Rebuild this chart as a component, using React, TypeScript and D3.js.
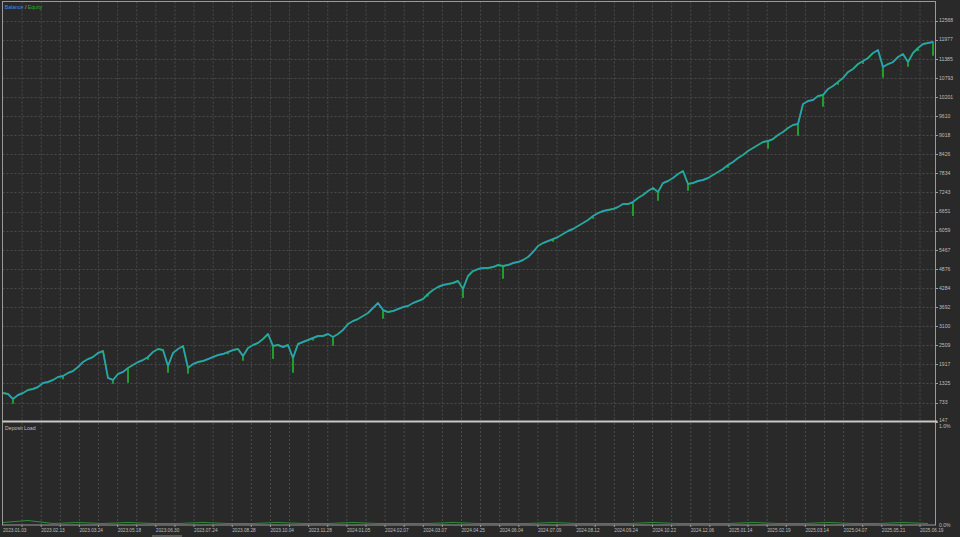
import React from "react";
import * as d3 from "d3";

const W = 960;
const H = 537;

// Balance curve, one value every few trades
const balance: number[] = [
  1030, 999, 844, 968, 1030, 1123, 1154, 1216, 1340, 1371,
  1433, 1526, 1557, 1650, 1711, 1835, 1990, 2083, 2145, 2269,
  2331, 1495, 1433, 1619, 1681, 1804, 1897, 1990, 2052, 2145,
  2300, 2393, 2362, 1866, 2269, 2393, 2486, 1804, 1928, 1990,
  2021, 2083, 2145, 2207, 2238, 2300, 2362, 2393, 2176, 2424,
  2517, 2579, 2703, 2858, 2486, 2517, 2455, 2517, 2114, 2548,
  2610, 2672, 2734, 2796, 2796, 2858, 2765, 2858, 2982, 3168,
  3260, 3322, 3415, 3508, 3663, 3818, 3601, 3539, 3570, 3632,
  3694, 3725, 3818, 3880, 3942, 4097, 4221, 4314, 4376, 4407,
  4438, 4500, 4252, 4655, 4809, 4871, 4902, 4902, 4933, 4995,
  4964, 4995, 5057, 5088, 5150, 5243, 5398, 5584, 5677, 5739,
  5801, 5863, 5956, 6049, 6111, 6204, 6297, 6389, 6513, 6606,
  6668, 6699, 6730, 6792, 6885, 6885, 6947, 7071, 7164, 7288,
  7381, 7257, 7536, 7598, 7691, 7815, 7907, 7505, 7536, 7598,
  7629, 7691, 7784, 7877, 7969, 8093, 8186, 8310, 8403, 8527,
  8620, 8713, 8806, 8837, 8899, 9023, 9116, 9240, 9333, 9364,
  9983, 10076, 10107, 10231, 10262, 10448, 10541, 10665, 10789, 10974,
  11067, 11222, 11315, 11408, 11563, 11656, 11129, 11222, 11284, 11439,
  11532, 11284, 11563, 11718, 11842, 11873, 11904,
];

// Equity drawdowns: [balance point index, equity value]
const equityDips: [number, number][] = [
  [2, 720], [12, 1480], [22, 1340], [25, 1370], [29, 2080], [33, 1680],
  [37, 1650], [45, 2250], [48, 2050], [54, 2110], [58, 1680], [62, 2680],
  [66, 2517], [76, 3350], [85, 4040], [92, 4000], [100, 4590], [110, 5740],
  [118, 6450], [126, 6540], [131, 7010], [137, 7320], [145, 8030], [153, 8620],
  [159, 9020], [164, 9920], [167, 10600], [172, 11250], [176, 10820], [181, 11160],
  [183, 11650], [186, 11500],
];

// Deposit load, percent, one value every 5 balance points
const depositLoad: number[] = [
  0.02, 0.04, 0.01, 0.02, 0.01, 0.02, 0.01, 0.01, 0.02, 0.01,
  0.01, 0.02, 0.01, 0.01, 0.02, 0.01, 0.01, 0.01, 0.02, 0.01,
  0.01, 0.01, 0.02, 0.01, 0.01, 0.01, 0.02, 0.01, 0.01, 0.01,
  0.02, 0.01, 0.01, 0.02, 0.01, 0.01, 0.02, 0.01,
];

const yTickValues: number[] = [
  147, 733, 1325, 1917, 2509, 3100, 3692, 4284, 4876, 5467, 6059,
  6651, 7243, 7834, 8426, 9018, 9610, 10201, 10793, 11385, 11977, 12568,
];

const loadTickLabels: string[] = ["1.0%", "0.0%"];
const loadTickValues: number[] = [1, 0];

const xTickLabels: string[] = [
  "2023.01.03", "2023.02.13", "2023.03.24", "2023.05.18", "2023.06.30",
  "2023.07.24", "2023.08.28", "2023.10.04", "2023.11.28", "2024.01.05",
  "2024.02.07", "2024.03.07", "2024.04.25", "2024.06.04", "2024.07.09",
  "2024.08.12", "2024.09.24", "2024.10.22", "2024.12.06", "2025.01.14",
  "2025.02.19", "2025.03.14", "2025.04.07", "2025.05.21", "2025.06.19",
];

const FONT = "'Liberation Sans', Arial, sans-serif";

export default function App() {
  const left = 2.5;
  const right = 935.5;
  const top = 1.5;
  const sep = 421.5;
  const bottom = 525;

  const x = d3.scaleLinear().domain([0, balance.length - 1]).range([3, 933]);
  const y = d3.scaleLinear().domain([147, 13144]).range([421.5, 2]);
  const yLoad = d3.scaleLinear().domain([0, 1]).range([524.5, 424.5]);
  const xLab = d3.scaleLinear().domain([0, xTickLabels.length - 1]).range([3, 920]);

  const balLine = d3
    .line<number>()
    .x((_, i) => x(i))
    .y((d) => y(d));

  const dipMap = new Map(equityDips.map(([i, v]) => [i, v]));
  const eqPts: [number, number][] = [];
  balance.forEach((b, i) => {
    eqPts.push([i, b]);
    const dv = dipMap.get(i);
    if (dv !== undefined) {
      eqPts.push([i, dv]);
      eqPts.push([i, b]);
    }
  });
  const eqLine = d3
    .line<[number, number]>()
    .x((d) => x(d[0]))
    .y((d) => y(d[1]));

  const loadLine = d3
    .line<number>()
    .x((_, i) => x(Math.min(i * 5, balance.length - 1)))
    .y((d) => yLoad(d));

  const halfSteps = d3.range(1, (xTickLabels.length - 1) * 2 + 1).map((j) => xLab(j / 2));

  const grid = "#4b4b4b";
  const txt = "#bdbdbd";

  return (
    <svg
      width={W}
      height={H}
      style={{ position: "fixed", left: 0, top: 0, display: "block" }}
      xmlns="http://www.w3.org/2000/svg"
    >
      <rect x={0} y={0} width={W} height={H} fill="#292929" />
      <rect x={152} y={535} width={30} height={2} fill="#5a5a5a" />

      {/* vertical grid */}
      {halfSteps.map((gx, k) => (
        <g key={"vg" + k}>
          <line x1={gx} x2={gx} y1={top} y2={sep - 1} stroke={grid} strokeWidth={1} strokeDasharray="2 2" />
          <line x1={gx} x2={gx} y1={sep + 1.5} y2={bottom} stroke={grid} strokeWidth={1} strokeDasharray="2 2" />
          <line x1={gx} x2={gx} y1={bottom} y2={bottom + 2} stroke="#9a9a9a" strokeWidth={1} />
        </g>
      ))}

      {/* horizontal grid + right labels */}
      {yTickValues.map((v, k) => {
        const yy = Math.round(y(v)) + 0.5;
        return (
          <g key={"hg" + k}>
            {k > 0 && (
              <line x1={left} x2={right} y1={yy} y2={yy} stroke={grid} strokeWidth={1} strokeDasharray="2 2" />
            )}
            <line x1={right} x2={right + 2.5} y1={yy} y2={yy} stroke="#9a9a9a" strokeWidth={1} />
            <text x={939} y={y(v) - (k === 0 ? 1 : 0)} dy="0.35em" fontSize={5.1} fill={txt} fontFamily={FONT}>
              {v}
            </text>
          </g>
        );
      })}

      {loadTickValues.map((v, k) => (
        <text key={"lt" + k} x={939} y={yLoad(v) + (k === 0 ? 2 : 0.5)} dy="0.35em" fontSize={5.1} fill={txt} fontFamily={FONT}>
          {loadTickLabels[k]}
        </text>
      ))}

      {/* x labels */}
      {xTickLabels.map((s, k) => (
        <text key={"xl" + k} x={xLab(k)} y={531.5} fontSize={4.7} fill={txt} fontFamily={FONT}>
          {s}
        </text>
      ))}

      {/* curves */}
      <path d={eqLine(eqPts) || ""} fill="none" stroke="#1fa52f" strokeWidth={1.9} strokeLinejoin="round" />
      <path d={balLine(balance) || ""} fill="none" stroke="#2e9de0" strokeWidth={1.4} strokeOpacity={0.85} strokeLinejoin="round" />

      <path d={loadLine(depositLoad) || ""} fill="none" stroke="#2f8f3a" strokeWidth={1} />

      {/* frame */}
      <rect x={left} y={top} width={right - left} height={bottom - top} fill="none" stroke="#9a9a9a" strokeWidth={1} />
      <line x1={left} x2={right + 2} y1={sep} y2={sep} stroke="#c8c8c8" strokeWidth={2} />

      {/* legends */}
      <text x={4.7} y={8.5} fontSize={5.2} fontFamily={FONT}>
        <tspan fill="#3d8fe6">Balance</tspan>
        <tspan fill={txt}> / </tspan>
        <tspan fill="#22b22a">Equity</tspan>
      </text>
      <text x={5} y={429.5} fontSize={5.2} fill={txt} fontFamily={FONT}>
        Deposit Load
      </text>
    </svg>
  );
}
